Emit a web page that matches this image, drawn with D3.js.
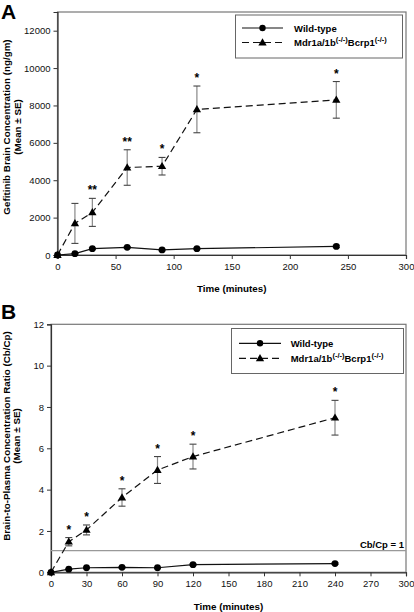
<!DOCTYPE html>
<html><head><meta charset="utf-8">
<script src="https://cdn.jsdelivr.net/npm/d3@7/dist/d3.min.js"></script>
<style>
body{margin:0;background:#fff;}
svg{display:block;font-family:"Liberation Sans",Arial,sans-serif;}
</style></head>
<body>
<svg id="chart" width="414" height="612"></svg>
<script>
// ---- data ----
const times = [0, 15, 30, 60, 90, 120, 240];
const brainWT = [0, 70, 340, 410, 270, 340, 460];
const brainWTse = [0, 20, 40, 40, 40, 40, 60];
const brainKO = [0, 1690, 2280, 4680, 4750, 7790, 8300];
const brainKOse = [0, 1070, 750, 950, 470, 1250, 980];
const brainStars = ["", "", "**", "**", "*", "*", "*"];
const ratioWT = [0, 0.15, 0.22, 0.24, 0.22, 0.37, 0.42];
const ratioWTse = [0, 0.02, 0.03, 0.03, 0.03, 0.04, 0.04];
const ratioKO = [0, 1.48, 2.05, 3.62, 4.95, 5.6, 7.48];
const ratioKOse = [0, 0.2, 0.24, 0.42, 0.65, 0.6, 0.84];
const ratioStars = ["", "*", "*", "*", "*", "*", "*"];
const brainYTicks = [0, 2000, 4000, 6000, 8000, 10000, 12000];
const brainXTicks = [0, 50, 100, 150, 200, 250, 300];
const ratioYTicks = [0, 2, 4, 6, 8, 10, 12];
const ratioXTicks = [0, 30, 60, 90, 120, 150, 180, 210, 240, 270, 300];
const seriesNames = ["Wild-type", "Mdr1a/1b"];

const svg = d3.select("#chart");

function panel(cfg) {
  const g = svg.append("g");
  const x = d3.scaleLinear().domain([0, 300]).range([cfg.left, cfg.right]);
  const y = d3.scaleLinear().domain([0, cfg.ymax]).range([cfg.bottom, cfg.top]);

  // frame
  g.append("rect").attr("x", cfg.left).attr("y", cfg.top)
    .attr("width", cfg.right - cfg.left).attr("height", cfg.bottom - cfg.top)
    .attr("fill", "none").attr("stroke", "#777").attr("stroke-width", 1.2);

  // axes
  const xa = g.append("g").attr("transform", `translate(0,${cfg.bottom})`)
    .call(d3.axisBottom(x).tickValues(cfg.xticks).tickSize(4).tickPadding(4).tickFormat(d3.format("d")));
  const ya = g.append("g").attr("transform", `translate(${cfg.left},0)`)
    .call(d3.axisLeft(y).tickValues(cfg.yticks).tickSize(4).tickPadding(3).tickFormat(d3.format("d")));
  [xa, ya].forEach(a => {
    a.select(".domain").attr("stroke", "#333").attr("stroke-width", 1.2);
    a.selectAll(".tick line").attr("stroke", "#333");
    a.selectAll("text").attr("font-size", 9.5).attr("fill", "#111")
      .attr("font-family", "Liberation Sans, Arial, sans-serif");
  });

  // reference line
  if (cfg.refLine !== undefined) {
    g.append("line").attr("x1", cfg.left).attr("x2", cfg.right)
      .attr("y1", y(cfg.refLine)).attr("y2", y(cfg.refLine))
      .attr("stroke", "#999").attr("stroke-width", 1.2);
    g.append("text").attr("x", cfg.right - 2).attr("y", y(cfg.refLine) - 3)
      .attr("text-anchor", "end").attr("font-size", 9.5).attr("font-weight", "bold")
      .text("Cb/Cp = 1");
  }

  const pts = (vals, se) => times.map((t, i) => ({t, v: vals[i], se: se[i]}));
  const wt = pts(cfg.wt, cfg.wtse);
  const ko = pts(cfg.ko, cfg.kose);
  const line = d3.line().x(d => x(d.t)).y(d => y(d.v));

  // error bars
  function errs(data) {
    const eb = g.append("g");
    data.filter(d => d.se > 0).forEach(d => {
      eb.append("line").attr("x1", x(d.t)).attr("x2", x(d.t))
        .attr("y1", y(d.v - d.se)).attr("y2", y(d.v + d.se))
        .attr("stroke", "#888").attr("stroke-width", 1.2);
      [d.v - d.se, d.v + d.se].forEach(v => {
        eb.append("line").attr("x1", x(d.t) - 3.5).attr("x2", x(d.t) + 3.5)
          .attr("y1", y(v)).attr("y2", y(v)).attr("stroke", "#444").attr("stroke-width", 1.1);
      });
    });
  }
  errs(ko); errs(wt);

  g.append("path").datum(wt).attr("d", line).attr("fill", "none")
    .attr("stroke", "#111").attr("stroke-width", 1.2);
  g.append("path").datum(ko).attr("d", line).attr("fill", "none")
    .attr("stroke", "#111").attr("stroke-width", 1.2).attr("stroke-dasharray", "7,4");

  g.selectAll(".wt").data(wt).enter().append("circle")
    .attr("cx", d => x(d.t)).attr("cy", d => y(d.v)).attr("r", 3.4).attr("fill", "#000");
  const tri = d3.symbol().type(d3.symbolTriangle).size(30);
  g.selectAll(".ko").data(ko).enter().append("path")
    .attr("d", tri).attr("transform", d => `translate(${x(d.t)},${y(d.v) + 0.5})`).attr("fill", "#000");

  // stars
  ko.forEach((d, i) => {
    if (cfg.stars[i]) {
      g.append("text").attr("x", x(d.t)).attr("y", y(d.v + d.se) - 4)
        .attr("text-anchor", "middle").attr("font-size", 12).attr("font-weight", "bold")
        .text(cfg.stars[i]);
    }
  });

  // legend
  const L = cfg.legend;
  g.append("rect").attr("x", L.x).attr("y", L.y).attr("width", L.w).attr("height", L.h)
    .attr("fill", "#fff").attr("stroke", "#666").attr("stroke-width", 1);
  [0, 1].forEach(i => {
    const yy = L.rows[i];
    g.append("line").attr("x1", L.lx1).attr("x2", L.lx2).attr("y1", yy).attr("y2", yy)
      .attr("stroke", "#111").attr("stroke-width", 1.2)
      .attr("stroke-dasharray", i === 1 ? "7,4" : null);
    const mx = (L.lx1 + L.lx2) / 2;
    if (i === 0) g.append("circle").attr("cx", mx).attr("cy", yy).attr("r", 3.2).attr("fill", "#000");
    else g.append("path").attr("d", tri).attr("transform", `translate(${mx},${yy + 0.5})`).attr("fill", "#000");
    const t = g.append("text").attr("x", L.tx).attr("y", yy + 3.5)
      .attr("font-size", 9.5).attr("font-weight", "bold");
    if (i === 0) t.text(seriesNames[0]);
    else {
      t.append("tspan").text(seriesNames[1]);
      t.append("tspan").attr("font-size", 7.5).attr("dy", -4).text("(-/-)");
      t.append("tspan").attr("dy", 4).text("Bcrp1");
      t.append("tspan").attr("font-size", 7.5).attr("dy", -4).text("(-/-)");
    }
  });

  // titles
  g.append("text").attr("x", (cfg.left + cfg.right) / 2).attr("y", cfg.xTitleY)
    .attr("text-anchor", "middle").attr("font-size", 9.8).attr("font-weight", "bold")
    .text("Time (minutes)");
  const yt = g.append("text").attr("transform", `translate(0,${cfg.yTitleY}) rotate(-90)`)
    .attr("text-anchor", "middle").attr("font-size", 9.8).attr("font-weight", "bold");
  yt.append("tspan").attr("x", 0).attr("y", cfg.yTitleX1).text(cfg.ytitle);
  yt.append("tspan").attr("x", 0).attr("y", cfg.yTitleX2).text("(Mean ± SE)");

  g.append("text").attr("x", 1).attr("y", cfg.labelY).attr("font-size", 21)
    .attr("font-weight", "bold").text(cfg.label);
}

panel({
  left: 57.5, right: 406, top: 12, bottom: 255, ymax: 13000,
  xticks: brainXTicks, yticks: brainYTicks,
  wt: brainWT, wtse: brainWTse, ko: brainKO, kose: brainKOse, stars: brainStars,
  legend: {x: 235.5, y: 15, w: 167, h: 43, rows: [28, 42.5], lx1: 242, lx2: 283, tx: 294},
  xTitleY: 291.5, yTitleY: 127, yTitleX1: 10, yTitleX2: 20.5,
  ytitle: "Gefitinib Brain Concentration (ng/gm)", label: "A", labelY: 18.5
});
panel({
  left: 51, right: 406, top: 324.3, bottom: 572.3, ymax: 12,
  xticks: ratioXTicks, yticks: ratioYTicks,
  wt: ratioWT, wtse: ratioWTse, ko: ratioKO, kose: ratioKOse, stars: ratioStars,
  refLine: 1.05,
  legend: {x: 231.5, y: 328.5, w: 172, h: 45, rows: [343.3, 358.3], lx1: 239, lx2: 281, tx: 290.7},
  xTitleY: 609.5, yTitleY: 436, yTitleX1: 10, yTitleX2: 19.5,
  ytitle: "Brain-to-Plasma Concentration Ratio (Cb/Cp)", label: "B", labelY: 318.5
});
</script>
</body></html>
